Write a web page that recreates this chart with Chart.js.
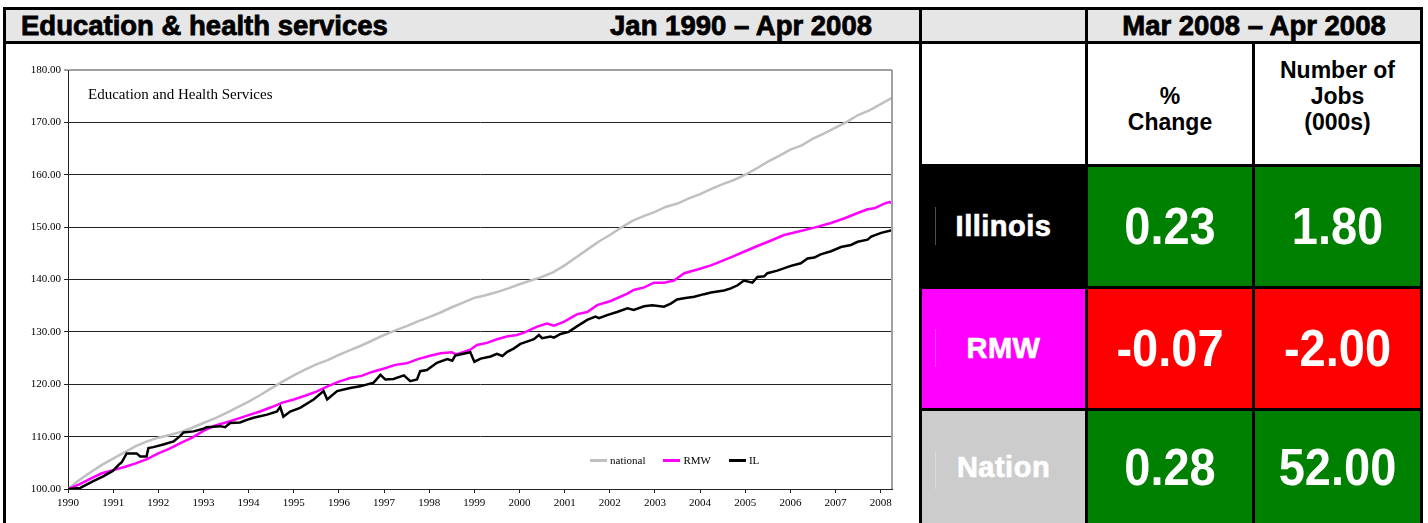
<!DOCTYPE html>
<html>
<head>
<meta charset="utf-8">
<script src="https://cdn.jsdelivr.net/npm/chart.js@4.4.0/dist/chart.umd.min.js"></script>
<style>
  html, body { margin: 0; padding: 0; background: #fff; }
  body { width: 1428px; height: 523px; position: relative; overflow: hidden;
         font-family: "Liberation Sans", Arial, sans-serif; }
  .line { position: absolute; background: #000; }
  .head { position: absolute; background: #e6e6e6; display: flex; align-items: center;
          font-weight: bold; font-size: 27.5px; color: #000; white-space: nowrap;
          -webkit-text-stroke: 0.8px #000; }
  .cell { position: absolute; display: flex; align-items: center; justify-content: center;
          color: #fff; font-weight: bold; white-space: nowrap; }
  .lab  { font-size: 29px; letter-spacing: 0.5px; -webkit-text-stroke: 0.7px #fff; }
  .num  { font-size: 47px; }
  .num span { display: inline-block; transform: scaleY(1.09); }
  .tick { position: absolute; left: 13px; top: 40px; width: 1px; height: 38px;
          background: rgba(255,255,255,0.3); }
  .colhead { position: absolute; background: #fff; display: flex; align-items: flex-end;
             justify-content: center; text-align: center; font-weight: bold; font-size: 23px;
             line-height: 26px; color: #000; box-sizing: border-box; padding-bottom: 29px; }
  #chartBox { position: absolute; left: 6px; top: 44px; width: 913px; height: 479px; }
  #plotTitle { position: absolute; left: 88px; top: 86px; font: 15px "Liberation Serif", "Times New Roman", serif; color: #000; }
  #legend { position: absolute; left: 590px; top: 454px; display: flex; align-items: center;
            font: 11px "Liberation Serif", "Times New Roman", serif; color: #000; }
  #legend .item { display: flex; align-items: center; margin-right: 18px; }
  #legend .seg { width: 17px; height: 3px; margin-right: 3px; }
</style>
</head>
<body>

<!-- left panel header -->
<div class="head" style="left:6px;top:10px;width:913px;height:31px;">
  <span style="position:absolute;left:15px;">Education &amp; health services</span>
  <span style="position:absolute;right:47px;">Jan 1990 – Apr 2008</span>
</div>

<!-- right table header -->
<div class="head" style="left:922px;top:10px;width:163px;height:31px;"></div>
<div class="head" style="left:1088px;top:10px;width:332px;height:31px;justify-content:center;">Mar 2008 – Apr 2008</div>
<div class="colhead" style="left:1088px;top:44px;width:164px;height:120px;">%<br>Change</div>
<div class="colhead" style="left:1255px;top:44px;width:165px;height:120px;">Number of<br>Jobs<br>(000s)</div>

<div id="rows"></div>

<!-- chart -->
<div id="chartBox"><canvas id="chart" width="913" height="479"></canvas></div>
<div id="plotTitle">Education and Health Services</div>
<div id="legend"></div>

<!-- frame lines -->
<div class="line" style="left:3px;top:7px;width:1420px;height:3px;"></div>
<div class="line" style="left:3px;top:41px;width:1420px;height:3px;"></div>
<div class="line" style="left:3px;top:7px;width:3px;height:516px;"></div>
<div class="line" style="left:919px;top:7px;width:3px;height:516px;"></div>
<div class="line" style="left:1085px;top:7px;width:3px;height:516px;"></div>
<div class="line" style="left:1252px;top:41px;width:3px;height:482px;"></div>
<div class="line" style="left:1420px;top:7px;width:3px;height:516px;"></div>
<div class="line" style="left:919px;top:164px;width:504px;height:3px;"></div>
<div class="line" style="left:919px;top:286px;width:504px;height:3px;"></div>
<div class="line" style="left:919px;top:408px;width:504px;height:3px;"></div>

<script>
// ── Data ────────────────────────────────────────────────────────────────────
const seriesNames = ["national", "RMW", "IL"];

const natYears = [1990, 1990.25, 1990.5, 1990.75, 1991, 1991.25, 1991.5, 1991.75,
  1992, 1992.25, 1992.5, 1992.75, 1993, 1993.25, 1993.5, 1993.75,
  1994, 1994.25, 1994.5, 1994.75, 1995, 1995.25, 1995.5, 1995.75,
  1996, 1996.25, 1996.5, 1996.75, 1997, 1997.25, 1997.5, 1997.75,
  1998, 1998.25, 1998.5, 1998.75, 1999, 1999.25, 1999.5, 1999.75,
  2000, 2000.25, 2000.5, 2000.75, 2001, 2001.25, 2001.5, 2001.75,
  2002, 2002.25, 2002.5, 2002.75, 2003, 2003.25, 2003.5, 2003.75,
  2004, 2004.25, 2004.5, 2004.75, 2005, 2005.25, 2005.5, 2005.75,
  2006, 2006.25, 2006.5, 2006.75, 2007, 2007.25, 2007.5, 2007.75,
  2008, 2008.25];
const natValues = [100.0, 101.7, 103.2, 104.6, 105.8, 107.0, 108.2, 109.1,
  109.8, 110.3, 110.9, 111.7, 112.6, 113.5, 114.5, 115.6,
  116.7, 117.9, 119.2, 120.5, 121.7, 122.8, 123.8, 124.6,
  125.6, 126.5, 127.4, 128.4, 129.4, 130.3, 131.1, 132.0,
  132.8, 133.7, 134.7, 135.6, 136.5, 137.0, 137.6, 138.3,
  139.1, 139.8, 140.5, 141.4, 142.7, 144.2, 145.7, 147.2,
  148.5, 149.9, 151.2, 152.1, 152.9, 153.9, 154.5, 155.5,
  156.3, 157.3, 158.2, 159.0, 160.0, 161.2, 162.5, 163.6,
  164.8, 165.6, 166.9, 167.9, 169.0, 170.1, 171.4, 172.3,
  173.5, 174.7];

const rmwYears = [1990, 1990.25, 1990.5, 1990.75, 1991, 1991.25, 1991.5, 1991.75,
  1992, 1992.25, 1992.5, 1992.75, 1993, 1993.25, 1993.5, 1993.75,
  1994, 1994.25, 1994.5, 1994.75, 1995, 1995.25, 1995.5, 1995.75,
  1996, 1996.25, 1996.5, 1996.75, 1997, 1997.25, 1997.5, 1997.75,
  1998, 1998.25, 1998.5, 1998.6, 1998.91, 1999.06, 1999.28, 1999.5,
  1999.72, 1999.94, 2000.09, 2000.39, 2000.61, 2000.76, 2000.98, 2001.28,
  2001.5, 2001.72, 2002.02, 2002.39, 2002.53, 2002.76, 2002.98, 2003.2,
  2003.42, 2003.65, 2003.94, 2004.24, 2004.53, 2004.76, 2004.97, 2005.27,
  2005.56, 2005.86, 2006.16, 2006.53, 2006.9, 2007.2, 2007.49, 2007.71,
  2007.86, 2008.08, 2008.19, 2008.25];
const rmwValues = [100.0, 100.9, 102.0, 103.0, 103.6, 104.2, 104.9, 105.7,
  106.8, 107.7, 108.8, 109.8, 111.1, 112.1, 112.7, 113.4,
  114.1, 114.8, 115.6, 116.5, 117.1, 117.8, 118.6, 119.6,
  120.5, 121.2, 121.6, 122.4, 123.0, 123.7, 124.0, 124.8,
  125.4, 125.9, 126.1, 125.7, 126.6, 127.5, 127.9, 128.6,
  129.1, 129.4, 129.8, 131.0, 131.6, 131.2, 131.9, 133.4,
  133.8, 135.1, 135.9, 137.3, 138.0, 138.5, 139.4, 139.4,
  139.8, 141.2, 141.9, 142.7, 143.7, 144.5, 145.3, 146.4,
  147.4, 148.5, 149.1, 149.9, 150.8, 151.7, 152.7, 153.4,
  153.6, 154.5, 154.8, 154.6];

const ilYears = [1990, 1990.27, 1990.56, 1990.78, 1991, 1991.12, 1991.19, 1991.3,
  1991.52, 1991.6, 1991.74, 1991.78, 1991.89, 1992.11, 1992.34, 1992.48,
  1992.56, 1992.78, 1993, 1993.07, 1993.37, 1993.48, 1993.59, 1993.81,
  1993.96, 1994.11, 1994.41, 1994.63, 1994.7, 1994.77, 1994.92, 1995.14,
  1995.44, 1995.66, 1995.74, 1995.96, 1996.25, 1996.47, 1996.77, 1996.92,
  1997.03, 1997.21, 1997.44, 1997.58, 1997.73, 1997.8, 1997.95, 1998.17,
  1998.4, 1998.51, 1998.58, 1998.91, 1999, 1999.14, 1999.36, 1999.5,
  1999.62, 1999.73, 1999.87, 2000.02, 2000.32, 2000.43, 2000.5, 2000.69,
  2000.76, 2000.91, 2001.09, 2001.28, 2001.5, 2001.68, 2001.76, 2001.94,
  2002.16, 2002.39, 2002.53, 2002.76, 2002.94, 2003.2, 2003.35, 2003.49,
  2003.64, 2003.87, 2004.09, 2004.24, 2004.53, 2004.68, 2004.83, 2004.97,
  2005.16, 2005.27, 2005.42, 2005.49, 2005.71, 2006.01, 2006.23, 2006.38,
  2006.53, 2006.67, 2006.9, 2007.12, 2007.34, 2007.49, 2007.71, 2007.79,
  2008.01, 2008.25];
const ilValues = [100.0, 100.2, 101.5, 102.4, 103.5, 104.6, 105.1, 106.8,
  106.8, 106.2, 106.2, 107.8, 108.0, 108.5, 109.1, 110.1,
  110.8, 111.0, 111.5, 111.8, 112.0, 111.8, 112.6, 112.7,
  113.2, 113.6, 114.2, 114.8, 115.7, 113.8, 114.8, 115.5,
  117.1, 118.7, 117.1, 118.7, 119.3, 119.6, 120.3, 121.8,
  120.9, 121.0, 121.7, 120.6, 120.9, 122.5, 122.7, 124.1,
  124.8, 124.5, 125.5, 126.1, 124.3, 124.9, 125.3, 125.8,
  125.4, 126.2, 126.8, 127.7, 128.6, 129.4, 128.8, 129.1,
  128.9, 129.6, 130.0, 131.1, 132.3, 132.9, 132.6, 133.2,
  133.8, 134.5, 134.2, 134.9, 135.1, 134.8, 135.4, 136.2,
  136.4, 136.7, 137.2, 137.5, 137.9, 138.3, 138.9, 139.8,
  139.4, 140.5, 140.6, 141.2, 141.7, 142.6, 143.1, 144.0,
  144.2, 144.8, 145.4, 146.2, 146.6, 147.2, 147.6, 148.2,
  148.9, 149.4];

const yearTicks  = [1990, 1991, 1992, 1993, 1994, 1995, 1996, 1997, 1998, 1999,
                    2000, 2001, 2002, 2003, 2004, 2005, 2006, 2007, 2008];
const valueTicks = [100, 110, 120, 130, 140, 150, 160, 170, 180];

// table on the right
const regions    = ["Illinois", "RMW", "Nation"];
const pctChange  = [0.23, -0.07, 0.28];
const jobsChange = [1.80, -2.00, 52.00];

// ── Styles ──────────────────────────────────────────────────────────────────
const lineColors   = { national: "#c0c0c0", RMW: "#ff00ff", IL: "#000000" };
const regionColors = { Illinois: "#000000", RMW: "#ff00ff", Nation: "#cccccc" };
const UP = "#008000", DOWN = "#ff0000";
const rowTops    = [167, 289, 411];
const rowHeights = [119, 119, 112];

// ── Table rows ──────────────────────────────────────────────────────────────
const rowsEl = document.getElementById("rows");
function addCell(left, top, width, height, bg, cls, html) {
  const d = document.createElement("div");
  d.className = "cell " + cls;
  d.style.cssText = `left:${left}px;top:${top}px;width:${width}px;height:${height}px;background:${bg};`;
  d.innerHTML = html;
  rowsEl.appendChild(d);
  return d;
}
regions.forEach((name, i) => {
  const top = rowTops[i], h = rowHeights[i];
  const lab = addCell(922, top, 163, h, regionColors[name], "lab", name);
  const mark = document.createElement("div");
  mark.className = "tick";
  lab.appendChild(mark);
  addCell(1088, top, 164, h, pctChange[i] >= 0 ? UP : DOWN, "num",
          `<span>${pctChange[i].toFixed(2)}</span>`);
  addCell(1255, top, 165, h, jobsChange[i] >= 0 ? UP : DOWN, "num",
          `<span>${jobsChange[i].toFixed(2)}</span>`);
});

// ── Chart ───────────────────────────────────────────────────────────────────
const toPoints = (xs, ys) => xs.map((x, i) => ({ x, y: ys[i] }));

function makeLine(name, xs, ys, order) {
  return {
    label: name,
    data: toPoints(xs, ys),
    borderColor: lineColors[name],
    backgroundColor: lineColors[name],
    borderWidth: 2.5,
    pointRadius: 0,
    tension: 0,
    fill: false,
    order: order,
  };
}

// right edge of the plot frame (grey, like the top line)
const frameRight = {
  id: "frameRight",
  afterDraw(chart) {
    const { ctx, chartArea: a } = chart;
    ctx.save();
    ctx.strokeStyle = "#a0a0a0";
    ctx.lineWidth = 2;
    ctx.beginPath();
    ctx.moveTo(a.right, a.top);
    ctx.lineTo(a.right, a.bottom);
    ctx.stroke();
    ctx.restore();
  },
};

Chart.defaults.font.family = '"Liberation Serif", "Times New Roman", serif';
Chart.defaults.font.size = 11;
Chart.defaults.color = "#000";

const chart = new Chart(document.getElementById("chart").getContext("2d"), {
  type: "line",
  data: {
    datasets: [
      makeLine(seriesNames[0], natYears, natValues, 3),
      makeLine(seriesNames[1], rmwYears, rmwValues, 2),
      makeLine(seriesNames[2], ilYears, ilValues, 1),
    ],
  },
  options: {
    responsive: false,
    animation: false,
    layout: { padding: { top: 26, right: 27, left: 0, bottom: 0 } },
    scales: {
      x: {
        type: "linear",
        min: 1990,
        max: 2008.25,
        afterFit: s => { s.height = 34; },
        afterBuildTicks: s => { s.ticks = yearTicks.map(v => ({ value: v })); },
        ticks: { maxRotation: 0, autoSkip: false, padding: 4, callback: v => String(v) },
        grid: { drawOnChartArea: false, drawTicks: true, tickLength: 4, color: "#222" },
        border: { color: "#222", width: 1 },
      },
      y: {
        min: 100,
        max: 180,
        afterFit: s => { s.width = 62; },
        afterBuildTicks: s => { s.ticks = valueTicks.map(v => ({ value: v })); },
        ticks: { padding: 3, callback: v => v.toFixed(2) },
        grid: {
          tickLength: 4,
          color: c => (c.tick && c.tick.value === 180 ? "#a0a0a0" : "#222"),
          lineWidth: c => (c.tick && c.tick.value === 180 ? 2 : 1),
        },
        border: { color: "#222", width: 1 },
      },
    },
    plugins: { legend: { display: false }, tooltip: { enabled: false } },
  },
  plugins: [frameRight],
});

// ── HTML legend built from the datasets ─────────────────────────────────────
const legendEl = document.getElementById("legend");
chart.data.datasets.forEach(ds => {
  const item = document.createElement("div");
  item.className = "item";
  item.innerHTML = `<span class="seg" style="background:${ds.borderColor}"></span>${ds.label}`;
  legendEl.appendChild(item);
});
</script>
</body>
</html>
